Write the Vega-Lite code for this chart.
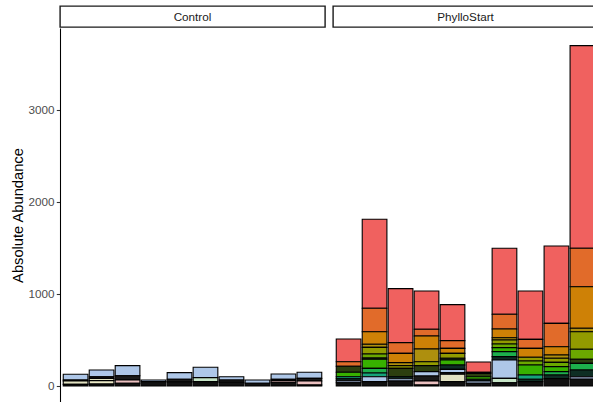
{
  "$schema": "https://vega.github.io/schema/vega-lite/v6.json",
  "background": "white",
  "padding": {"left": 10, "top": 5, "right": 0, "bottom": 0},
  "config": {"font": "Liberation Sans", "view": {"stroke": null}},
  "datasets": {
    "abund": [
      {"panel": "Control", "sample": "C1", "taxon": "Taxon 12", "value": 62},
      {"panel": "Control", "sample": "C1", "taxon": "Taxon 13", "value": 11},
      {"panel": "Control", "sample": "C1", "taxon": "Taxon 14", "value": 36},
      {"panel": "Control", "sample": "C1", "taxon": "Taxon 19", "value": 18},
      {"panel": "Control", "sample": "C2", "taxon": "Taxon 12", "value": 73},
      {"panel": "Control", "sample": "C2", "taxon": "Taxon 13", "value": 18},
      {"panel": "Control", "sample": "C2", "taxon": "Taxon 14", "value": 25},
      {"panel": "Control", "sample": "C2", "taxon": "Taxon 15", "value": 36},
      {"panel": "Control", "sample": "C2", "taxon": "Taxon 19", "value": 22},
      {"panel": "Control", "sample": "C3", "taxon": "Taxon 12", "value": 109},
      {"panel": "Control", "sample": "C3", "taxon": "Taxon 13", "value": 47},
      {"panel": "Control", "sample": "C3", "taxon": "Taxon 16", "value": 36},
      {"panel": "Control", "sample": "C3", "taxon": "Taxon 19", "value": 29},
      {"panel": "Control", "sample": "C4", "taxon": "Taxon 12", "value": 18},
      {"panel": "Control", "sample": "C4", "taxon": "Taxon 19", "value": 47},
      {"panel": "Control", "sample": "C5", "taxon": "Taxon 12", "value": 72},
      {"panel": "Control", "sample": "C5", "taxon": "Taxon 13", "value": 30},
      {"panel": "Control", "sample": "C5", "taxon": "Taxon 19", "value": 43},
      {"panel": "Control", "sample": "C6", "taxon": "Taxon 12", "value": 112},
      {"panel": "Control", "sample": "C6", "taxon": "Taxon 17", "value": 44},
      {"panel": "Control", "sample": "C6", "taxon": "Taxon 19", "value": 47},
      {"panel": "Control", "sample": "C7", "taxon": "Taxon 12", "value": 36},
      {"panel": "Control", "sample": "C7", "taxon": "Taxon 13", "value": 25},
      {"panel": "Control", "sample": "C7", "taxon": "Taxon 19", "value": 40},
      {"panel": "Control", "sample": "C8", "taxon": "Taxon 12", "value": 36},
      {"panel": "Control", "sample": "C8", "taxon": "Taxon 19", "value": 29},
      {"panel": "Control", "sample": "C9", "taxon": "Taxon 12", "value": 57},
      {"panel": "Control", "sample": "C9", "taxon": "Taxon 13", "value": 12},
      {"panel": "Control", "sample": "C9", "taxon": "Taxon 16", "value": 20},
      {"panel": "Control", "sample": "C9", "taxon": "Taxon 19", "value": 41},
      {"panel": "Control", "sample": "C10", "taxon": "Taxon 12", "value": 66},
      {"panel": "Control", "sample": "C10", "taxon": "Taxon 13", "value": 29},
      {"panel": "Control", "sample": "C10", "taxon": "Taxon 16", "value": 43},
      {"panel": "Control", "sample": "C10", "taxon": "Taxon 19", "value": 11},

      {"panel": "PhylloStart", "sample": "P1", "taxon": "Taxon 01", "value": 247},
      {"panel": "PhylloStart", "sample": "P1", "taxon": "Taxon 02", "value": 50},
      {"panel": "PhylloStart", "sample": "P1", "taxon": "Taxon 07", "value": 65},
      {"panel": "PhylloStart", "sample": "P1", "taxon": "Taxon 08", "value": 48},
      {"panel": "PhylloStart", "sample": "P1", "taxon": "Taxon 10", "value": 22},
      {"panel": "PhylloStart", "sample": "P1", "taxon": "Taxon 11", "value": 22},
      {"panel": "PhylloStart", "sample": "P1", "taxon": "Taxon 18", "value": 22},
      {"panel": "PhylloStart", "sample": "P1", "taxon": "Taxon 19", "value": 35},

      {"panel": "PhylloStart", "sample": "P2", "taxon": "Taxon 01", "value": 967},
      {"panel": "PhylloStart", "sample": "P2", "taxon": "Taxon 02", "value": 255},
      {"panel": "PhylloStart", "sample": "P2", "taxon": "Taxon 03", "value": 137},
      {"panel": "PhylloStart", "sample": "P2", "taxon": "Taxon 04", "value": 33},
      {"panel": "PhylloStart", "sample": "P2", "taxon": "Taxon 05", "value": 72},
      {"panel": "PhylloStart", "sample": "P2", "taxon": "Taxon 06", "value": 43},
      {"panel": "PhylloStart", "sample": "P2", "taxon": "Taxon 07", "value": 15},
      {"panel": "PhylloStart", "sample": "P2", "taxon": "Taxon 08", "value": 98},
      {"panel": "PhylloStart", "sample": "P2", "taxon": "Taxon 09", "value": 50},
      {"panel": "PhylloStart", "sample": "P2", "taxon": "Taxon 10", "value": 41},
      {"panel": "PhylloStart", "sample": "P2", "taxon": "Taxon 12", "value": 54},
      {"panel": "PhylloStart", "sample": "P2", "taxon": "Taxon 19", "value": 47},

      {"panel": "PhylloStart", "sample": "P3", "taxon": "Taxon 01", "value": 587},
      {"panel": "PhylloStart", "sample": "P3", "taxon": "Taxon 02", "value": 116},
      {"panel": "PhylloStart", "sample": "P3", "taxon": "Taxon 03", "value": 101},
      {"panel": "PhylloStart", "sample": "P3", "taxon": "Taxon 04", "value": 33},
      {"panel": "PhylloStart", "sample": "P3", "taxon": "Taxon 05", "value": 29},
      {"panel": "PhylloStart", "sample": "P3", "taxon": "Taxon 07", "value": 91},
      {"panel": "PhylloStart", "sample": "P3", "taxon": "Taxon 11", "value": 22},
      {"panel": "PhylloStart", "sample": "P3", "taxon": "Taxon 12", "value": 25},
      {"panel": "PhylloStart", "sample": "P3", "taxon": "Taxon 19", "value": 54},

      {"panel": "PhylloStart", "sample": "P4", "taxon": "Taxon 01", "value": 417},
      {"panel": "PhylloStart", "sample": "P4", "taxon": "Taxon 02", "value": 73},
      {"panel": "PhylloStart", "sample": "P4", "taxon": "Taxon 03", "value": 141},
      {"panel": "PhylloStart", "sample": "P4", "taxon": "Taxon 04", "value": 138},
      {"panel": "PhylloStart", "sample": "P4", "taxon": "Taxon 05", "value": 43},
      {"panel": "PhylloStart", "sample": "P4", "taxon": "Taxon 07", "value": 65},
      {"panel": "PhylloStart", "sample": "P4", "taxon": "Taxon 12", "value": 47},
      {"panel": "PhylloStart", "sample": "P4", "taxon": "Taxon 13", "value": 55},
      {"panel": "PhylloStart", "sample": "P4", "taxon": "Taxon 16", "value": 43},
      {"panel": "PhylloStart", "sample": "P4", "taxon": "Taxon 19", "value": 11},

      {"panel": "PhylloStart", "sample": "P5", "taxon": "Taxon 01", "value": 391},
      {"panel": "PhylloStart", "sample": "P5", "taxon": "Taxon 02", "value": 84},
      {"panel": "PhylloStart", "sample": "P5", "taxon": "Taxon 03", "value": 54},
      {"panel": "PhylloStart", "sample": "P5", "taxon": "Taxon 05", "value": 54},
      {"panel": "PhylloStart", "sample": "P5", "taxon": "Taxon 07", "value": 18},
      {"panel": "PhylloStart", "sample": "P5", "taxon": "Taxon 08", "value": 55},
      {"panel": "PhylloStart", "sample": "P5", "taxon": "Taxon 11", "value": 47},
      {"panel": "PhylloStart", "sample": "P5", "taxon": "Taxon 12", "value": 36},
      {"panel": "PhylloStart", "sample": "P5", "taxon": "Taxon 13", "value": 18},
      {"panel": "PhylloStart", "sample": "P5", "taxon": "Taxon 14", "value": 80},
      {"panel": "PhylloStart", "sample": "P5", "taxon": "Taxon 19", "value": 47},

      {"panel": "PhylloStart", "sample": "P6", "taxon": "Taxon 01", "value": 112},
      {"panel": "PhylloStart", "sample": "P6", "taxon": "Taxon 02", "value": 12},
      {"panel": "PhylloStart", "sample": "P6", "taxon": "Taxon 07", "value": 36},
      {"panel": "PhylloStart", "sample": "P6", "taxon": "Taxon 08", "value": 28},
      {"panel": "PhylloStart", "sample": "P6", "taxon": "Taxon 11", "value": 19},
      {"panel": "PhylloStart", "sample": "P6", "taxon": "Taxon 12", "value": 25},
      {"panel": "PhylloStart", "sample": "P6", "taxon": "Taxon 19", "value": 29},

      {"panel": "PhylloStart", "sample": "P7", "taxon": "Taxon 01", "value": 718},
      {"panel": "PhylloStart", "sample": "P7", "taxon": "Taxon 02", "value": 159},
      {"panel": "PhylloStart", "sample": "P7", "taxon": "Taxon 03", "value": 95},
      {"panel": "PhylloStart", "sample": "P7", "taxon": "Taxon 04", "value": 25},
      {"panel": "PhylloStart", "sample": "P7", "taxon": "Taxon 05", "value": 43},
      {"panel": "PhylloStart", "sample": "P7", "taxon": "Taxon 06", "value": 40},
      {"panel": "PhylloStart", "sample": "P7", "taxon": "Taxon 08", "value": 44},
      {"panel": "PhylloStart", "sample": "P7", "taxon": "Taxon 09", "value": 54},
      {"panel": "PhylloStart", "sample": "P7", "taxon": "Taxon 11", "value": 36},
      {"panel": "PhylloStart", "sample": "P7", "taxon": "Taxon 12", "value": 200},
      {"panel": "PhylloStart", "sample": "P7", "taxon": "Taxon 17", "value": 47},
      {"panel": "PhylloStart", "sample": "P7", "taxon": "Taxon 19", "value": 36},

      {"panel": "PhylloStart", "sample": "P8", "taxon": "Taxon 01", "value": 526},
      {"panel": "PhylloStart", "sample": "P8", "taxon": "Taxon 02", "value": 98},
      {"panel": "PhylloStart", "sample": "P8", "taxon": "Taxon 03", "value": 97},
      {"panel": "PhylloStart", "sample": "P8", "taxon": "Taxon 05", "value": 40},
      {"panel": "PhylloStart", "sample": "P8", "taxon": "Taxon 06", "value": 44},
      {"panel": "PhylloStart", "sample": "P8", "taxon": "Taxon 08", "value": 108},
      {"panel": "PhylloStart", "sample": "P8", "taxon": "Taxon 10", "value": 47},
      {"panel": "PhylloStart", "sample": "P8", "taxon": "Taxon 11", "value": 26},
      {"panel": "PhylloStart", "sample": "P8", "taxon": "Taxon 19", "value": 47},

      {"panel": "PhylloStart", "sample": "P9", "taxon": "Taxon 01", "value": 841},
      {"panel": "PhylloStart", "sample": "P9", "taxon": "Taxon 02", "value": 254},
      {"panel": "PhylloStart", "sample": "P9", "taxon": "Taxon 03", "value": 90},
      {"panel": "PhylloStart", "sample": "P9", "taxon": "Taxon 04", "value": 36},
      {"panel": "PhylloStart", "sample": "P9", "taxon": "Taxon 05", "value": 44},
      {"panel": "PhylloStart", "sample": "P9", "taxon": "Taxon 06", "value": 47},
      {"panel": "PhylloStart", "sample": "P9", "taxon": "Taxon 08", "value": 54},
      {"panel": "PhylloStart", "sample": "P9", "taxon": "Taxon 09", "value": 36},
      {"panel": "PhylloStart", "sample": "P9", "taxon": "Taxon 11", "value": 40},
      {"panel": "PhylloStart", "sample": "P9", "taxon": "Taxon 19", "value": 80},

      {"panel": "PhylloStart", "sample": "P10", "taxon": "Taxon 01", "value": 2202},
      {"panel": "PhylloStart", "sample": "P10", "taxon": "Taxon 02", "value": 418},
      {"panel": "PhylloStart", "sample": "P10", "taxon": "Taxon 03", "value": 452},
      {"panel": "PhylloStart", "sample": "P10", "taxon": "Taxon 04", "value": 37},
      {"panel": "PhylloStart", "sample": "P10", "taxon": "Taxon 05", "value": 191},
      {"panel": "PhylloStart", "sample": "P10", "taxon": "Taxon 06", "value": 109},
      {"panel": "PhylloStart", "sample": "P10", "taxon": "Taxon 07", "value": 44},
      {"panel": "PhylloStart", "sample": "P10", "taxon": "Taxon 09", "value": 72},
      {"panel": "PhylloStart", "sample": "P10", "taxon": "Taxon 11", "value": 73},
      {"panel": "PhylloStart", "sample": "P10", "taxon": "Taxon 18", "value": 28},
      {"panel": "PhylloStart", "sample": "P10", "taxon": "Taxon 19", "value": 73}
    ]
  },
  "resolve": {"scale": {"x": "independent", "y": "independent"}},
  "spacing": 6,
  "hconcat": [
    {
      "spacing": 0,
      "resolve": {"scale": {"x": "independent", "y": "independent"}},
      "vconcat": [
        {
          "width": 265,
          "height": 21,
          "view": {"stroke": "#1A1A1A", "strokeWidth": 1.4, "fill": "white"},
          "data": {"values": [{"panel": "Control"}]},
          "mark": {"type": "text", "fontSize": 11.7, "color": "#1A1A1A", "baseline": "middle", "align": "center"},
          "encoding": {"text": {"field": "panel"}}
        },
        {
          "width": 265,
          "height": 374,
          "data": {"name": "abund"},
          "transform": [{"filter": "datum.panel === 'Control'"}],
          "mark": {"type": "bar", "stroke": "black", "strokeWidth": 1.1},
          "encoding": {
            "x": {"field": "sample", "type": "nominal", "sort": null, "scale": {"paddingInner": 0.05, "paddingOuter": 0.125}, "axis": null},
            "y": {"field": "value", "type": "quantitative", "stack": "zero",
                  "scale": {"domain": [-174, 3891], "nice": false, "zero": false},
                  "axis": {"title": "Absolute Abundance", "values": [0, 1000, 2000, 3000], "format": "d", "grid": false,
                           "domainColor": "black", "domainWidth": 1.07, "tickColor": "#333333", "tickSize": 3.7, "tickWidth": 1.07,
                           "labelColor": "#4D4D4D", "labelFontSize": 11.7, "labelPadding": 2.2,
                           "titleFontSize": 14.7, "titleColor": "black", "titleFontWeight": "normal", "titlePadding": 3}},
            "color": {"field": "taxon", "type": "nominal", "legend": null,
                      "scale": {"domain": ["Taxon 01","Taxon 02","Taxon 03","Taxon 04","Taxon 05","Taxon 06","Taxon 07","Taxon 08","Taxon 09","Taxon 10","Taxon 11","Taxon 12","Taxon 13","Taxon 14","Taxon 15","Taxon 16","Taxon 17","Taxon 18","Taxon 19"],
                                "range": ["#F0615F","#E16B2A","#CE8106","#AE8F0E","#929B00","#6BA800","#2C3F10","#37B100","#1DAF4C","#15A47A","#0E2E24","#AEC7E8","#1A1A1A","#E2E2C2","#EDEBC8","#EBC0C0","#C7E5C7","#8E9CBA","#111111"]}},
            "order": {"field": "taxon", "sort": "descending"}
          }
        }
      ]
    },
    {
      "spacing": 0,
      "resolve": {"scale": {"x": "independent", "y": "independent"}},
      "vconcat": [
        {
          "width": 265,
          "height": 21,
          "view": {"stroke": "#1A1A1A", "strokeWidth": 1.4, "fill": "white"},
          "data": {"values": [{"panel": "PhylloStart"}]},
          "mark": {"type": "text", "fontSize": 11.7, "color": "#1A1A1A", "baseline": "middle", "align": "center"},
          "encoding": {"text": {"field": "panel"}}
        },
        {
          "width": 265,
          "height": 374,
          "data": {"name": "abund"},
          "transform": [{"filter": "datum.panel === 'PhylloStart'"}],
          "mark": {"type": "bar", "stroke": "black", "strokeWidth": 1.1},
          "encoding": {
            "x": {"field": "sample", "type": "nominal", "sort": null, "scale": {"paddingInner": 0.05, "paddingOuter": 0.125}, "axis": null},
            "y": {"field": "value", "type": "quantitative", "stack": "zero",
                  "scale": {"domain": [-174, 3891], "nice": false, "zero": false}, "axis": null},
            "color": {"field": "taxon", "type": "nominal", "legend": null,
                      "scale": {"domain": ["Taxon 01","Taxon 02","Taxon 03","Taxon 04","Taxon 05","Taxon 06","Taxon 07","Taxon 08","Taxon 09","Taxon 10","Taxon 11","Taxon 12","Taxon 13","Taxon 14","Taxon 15","Taxon 16","Taxon 17","Taxon 18","Taxon 19"],
                                "range": ["#F0615F","#E16B2A","#CE8106","#AE8F0E","#929B00","#6BA800","#2C3F10","#37B100","#1DAF4C","#15A47A","#0E2E24","#AEC7E8","#1A1A1A","#E2E2C2","#EDEBC8","#EBC0C0","#C7E5C7","#8E9CBA","#111111"]}},
            "order": {"field": "taxon", "sort": "descending"}
          }
        }
      ]
    }
  ]
}
